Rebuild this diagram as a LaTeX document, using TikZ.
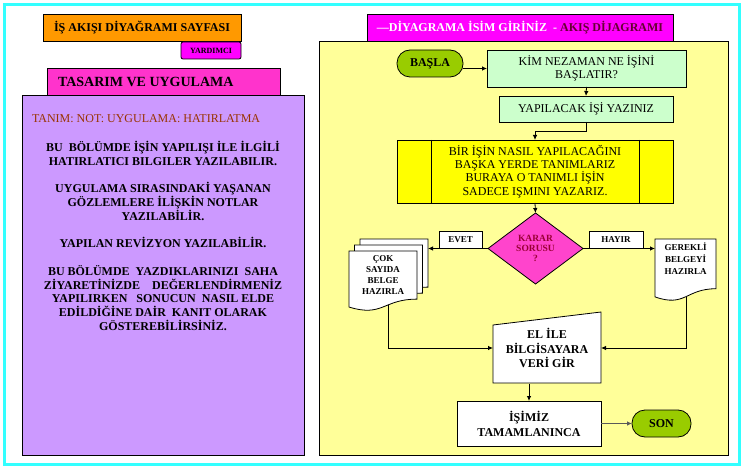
\documentclass[tikz,border=0pt]{standalone}
\usepackage{fontspec}
\setmainfont{Liberation Serif}
\usetikzlibrary{arrows.meta,shapes.geometric}
\definecolor{cyanf}{HTML}{33FFFF}
\definecolor{orangef}{HTML}{FF9900}
\definecolor{magf}{HTML}{FF00FF}
\definecolor{pinkf}{HTML}{FF33CC}
\definecolor{purpf}{HTML}{CC99FF}
\definecolor{lyellow}{HTML}{FFFF99}
\definecolor{greenf}{HTML}{99CC00}
\definecolor{lgreen}{HTML}{CCFFCC}
\definecolor{yellowf}{HTML}{FFFF00}
\definecolor{diaf}{HTML}{FF44CC}
\definecolor{brownf}{HTML}{993300}
\definecolor{maroonf}{HTML}{660033}
\definecolor{karf}{HTML}{990033}
\newcommand\drawdoc[4]{%
  \filldraw[bx,fill=white] (#1,#2) -- (#1+#3,#2) -- (#1+#3,#2+0.802*#4)
    .. controls (#1+0.5*#3,#2+0.802*#4) and (#1+0.5*#3,#2+1.107*#4) .. (#1,#2+0.934*#4) -- cycle;}
\tikzset{
  every node/.style={inner sep=0pt,outer sep=0pt},
  bx/.style={draw=black,line width=0.8pt},
  ln/.style={line width=0.8pt},
  arr/.style={-{Latex[length=5pt,width=4.5pt]},line width=0.8pt},
  f12/.style={font=\fontsize{12}{13.5}\selectfont},
  b12/.style={font=\fontsize{12}{13.5}\selectfont\bfseries},
  b9/.style={font=\fontsize{9}{11}\selectfont\bfseries},
}
\begin{document}
\begin{tikzpicture}[x=1pt,y=-1pt]
\useasboundingbox (0,0) rectangle (746,470);
\fill[white] (0,0) rectangle (746,470);
\draw[cyanf,line width=3pt] (4.5,4.5) rectangle (739.5,464.5);

% left column
\node[bx,fill=orangef,minimum width=198pt,minimum height=27pt,b12] (title) at (142,27.5) {İŞ AKIŞI DİYAĞRAMI SAYFASI};
\node[bx,fill=magf,rounded corners=2pt,minimum width=60pt,minimum height=17pt,font=\fontsize{8}{9}\selectfont\bfseries] (yard) at (211,50.5) {YARDIMCI};
\node[bx,fill=purpf,minimum width=282pt,minimum height=360pt] (purp) at (163,275) {};
\node[bx,fill=pinkf,minimum width=233pt,minimum height=27pt] (tas) at (163.5,81.5) {};
\node[anchor=west,font=\fontsize{14}{16}\selectfont\bfseries] (tast) at ([xshift=11pt]tas.west) {TASARIM VE UYGULAMA};
\node[anchor=west,f12,text=brownf] (tanim) at (32,119) {TANIM: NOT: UYGULAMA: HATIRLATMA};
\node[anchor=base,align=center,font=\fontsize{12}{13.73}\selectfont\bfseries] (notes) at (163,330.2)
 {BU\ \ BÖLÜMDE İŞİN YAPILIŞI İLE İLGİLİ\\
  HATIRLATICI BILGILER YAZILABILIR.\\[13.73pt]
  UYGULAMA SIRASINDAKİ YAŞANAN\\
  GÖZLEMLERE İLİŞKİN NOTLAR\\
  YAZILABİLİR.\\[13.73pt]
  YAPILAN REVİZYON YAZILABİLİR.\\[13.73pt]
  BU BÖLÜMDE\ \ YAZDIKLARINIZI\ \ SAHA\\
  ZİYARETİNİZDE\ \ \ \ DEĞERLENDİRMENİZ\\
  YAPILIRKEN\ \ \ SONUCUN\ \ NASIL ELDE\\
  EDİLDİĞİNE DAİR\ \ KANIT OLARAK\\
  GÖSTEREBİLİRSİNİZ.};

% right column
\node[bx,fill=magf,minimum width=306pt,minimum height=27pt,b12] (rtitle) at (520,27.5)
 {\textcolor{white}{—DİYAGRAMA İSİM GİRİNİZ\ \ -} \textcolor{maroonf}{AKIŞ DİJAGRAMI}};
\node[bx,fill=lyellow,minimum width=409pt,minimum height=414pt] (panel) at (523.5,248) {};

\node[bx,fill=greenf,rounded corners=13pt,minimum width=66pt,minimum height=27pt,b12] (basla) at (430,63.5) {BAŞLA};
\node[bx,fill=lgreen,minimum width=199pt,minimum height=37pt,align=center,f12] (b1) at (586.5,68.5) {KİM NEZAMAN NE İŞİNİ\\BAŞLATIR?};
\node[bx,fill=lgreen,minimum width=174pt,minimum height=26pt,f12] (b2) at (586,109) {YAPILACAK İŞİ YAZINIZ};
\node[bx,fill=yellowf,minimum width=276pt,minimum height=63pt,align=center,font=\fontsize{12}{13.3}\selectfont] (proc) at (535,171.5)
 {BİR İŞİN NASIL YAPILACAĞINI\\BAŞKA YERDE TANIMLARIZ\\BURAYA O TANIMLI İŞİN\\SADECE IŞMINI YAZARIZ.};
\draw[ln] ([xshift=34pt]proc.north west) -- ([xshift=34pt]proc.south west);
\draw[ln] ([xshift=-34pt]proc.north east) -- ([xshift=-34pt]proc.south east);

\node[bx,diamond,fill=diaf,minimum width=95pt,minimum height=71pt,aspect=1.34,align=center,text=karf,font=\fontsize{9.5}{10}\selectfont\bfseries] (dia) at (535.5,248.5) {KARAR\\SORUSU\\?};
\node[bx,fill=white,minimum width=43pt,minimum height=17pt,b9] (evet) at (460.5,239.5) {EVET};
\node[bx,fill=white,minimum width=54pt,minimum height=17pt,b9] (hayir) at (616,239.5) {HAYIR};

% multi document
\drawdoc{360}{239}{68}{60}
\drawdoc{354.5}{245}{68}{60}
\drawdoc{349}{251}{68}{60}
\node[align=center,b9] (mdt) at (383,275.5) {ÇOK\\SAYIDA\\BELGE\\HAZIRLA};
\coordinate (mdr) at (428,248.5);
\coordinate (mdb) at (388,305);

% single document
\drawdoc{655}{239}{61}{62}
\node[minimum width=61pt,minimum height=62pt] (rdoc) at (685.5,270) {};
\node[align=center,font=\fontsize{9}{11.7}\selectfont\bfseries] (rdt) at (685.5,258.8) {GEREKLİ\\BELGEYİ\\HAZIRLA};
\coordinate (rdb) at (686,296.5);

% manual input
\draw[bx,fill=white] (493,325) -- (601,312) -- (601,383) -- (493,383) -- cycle;
\node[minimum width=108pt,minimum height=71pt,align=center,font=\fontsize{12}{14.5}\selectfont\bfseries] (man) at (547,348) {EL İLE\\BİLGİSAYARA\\VERİ GİR};

\node[bx,fill=white,minimum width=144pt,minimum height=45pt,align=center,font=\fontsize{12}{15}\selectfont\bfseries] (isim) at (529,423.5) {İŞİMİZ\\TAMAMLANINCA};
\node[bx,fill=greenf,rounded corners=13pt,minimum width=59pt,minimum height=27pt,b12] (son) at (661.5,423.5) {SON};

% connectors
\draw[arr] (basla.east |- b1.west) -- (b1.west);
\draw[arr] (b1.south) -- (b2.north);
\draw[arr] (b2.south) -- ++(0,9) -| (proc.north);
\draw[arr] (proc.south) -- (dia.north);
\draw[arr] (dia.west) -- (mdr);
\draw[arr] (dia.east) -- (dia.east -| rdoc.west);
\draw[arr] (mdb) |- (man.west);
\draw[arr] (rdb) |- (man.east);
\draw[arr] (isim.north |- man.south) -- (isim.north);
\draw[arr,draw=black!65] (isim.east |- son.west) -- (son.west);
\end{tikzpicture}
\end{document}
